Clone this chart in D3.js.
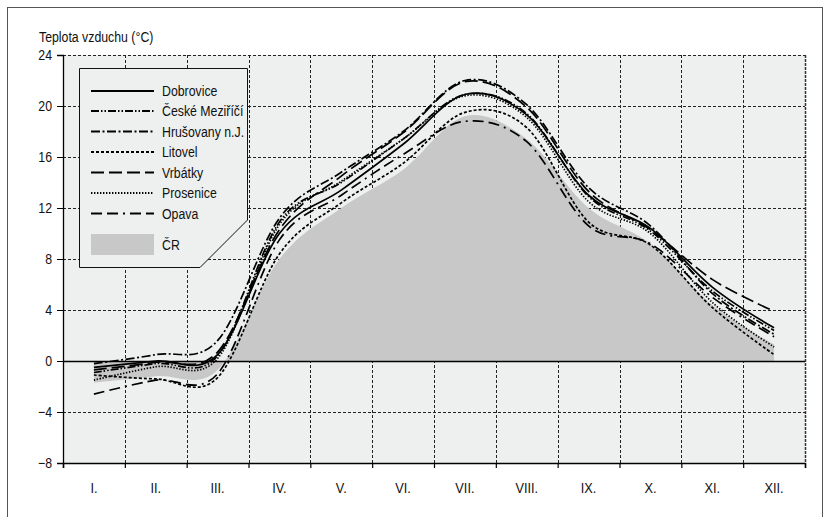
<!DOCTYPE html>
<html>
<head>
<meta charset="utf-8">
<script src="https://cdn.jsdelivr.net/npm/d3@7"></script>
<style>
  html, body { margin: 0; padding: 0; background: #fff; }
  svg text { font-family: "Liberation Sans", Arial, sans-serif; fill: #111; }
</style>
</head>
<body>
<svg id="chart" width="829" height="517"></svg>
<script>
// ---- data ----
const months = ["I.", "II.", "III.", "IV.", "V.", "VI.", "VII.", "VIII.", "IX.", "X.", "XI.", "XII."];
const yTicks = [-8, -4, 0, 4, 8, 12, 16, 20, 24];
const yTickLabels = ["\u22128", "\u22124", "0", "4", "8", "12", "16", "20", "24"];

const dobrovice     = [-0.5,  0.0,  0.5, 10.0, 13.4, 17.0, 20.9, 19.3, 13.0, 10.4, 5.8, 2.6];
const ceskeMezirici = [-0.9, -0.2,  0.4, 10.9, 14.0, 17.4, 20.9, 19.4, 12.9, 10.2, 5.5, 2.4];
const hrusovany     = [-0.2,  0.5,  1.6, 11.2, 14.8, 18.0, 22.0, 20.1, 13.6, 10.6, 5.3, 2.1];
const litovel       = [-1.1, -1.4, -1.3,  8.4, 12.4, 15.5, 19.5, 18.3, 10.9,  9.1, 4.2, 0.5];
const vrbatky       = [-0.7, -0.1,  0.7, 10.3, 14.5, 17.9, 21.9, 19.9, 13.3, 10.3, 6.4, 3.9];
const prosenice     = [-1.5, -0.45, 0.2, 10.7, 14.1, 17.4, 20.8, 19.1, 12.5, 10.0, 4.6, 1.1];
const opava         = [-2.6, -1.5, -1.0,  9.5, 13.0, 16.2, 18.8, 17.2, 10.6,  9.2, 5.0, 1.9];
const cr            = [-1.7, -1.2, -0.7,  8.0, 12.0, 15.0, 19.2, 17.4, 12.0,  9.2, 4.4, 1.3];

const seriesNames = ["Dobrovice", "České Meziříčí", "Hrušovany n.J.", "Litovel", "Vrbátky", "Prosenice", "Opava"];
const seriesValues = [dobrovice, ceskeMezirici, hrusovany, litovel, vrbatky, prosenice, opava];
const seriesDash = ["none", "8,2,1.5,2,1.5,2", "9,2.5,2,2.5", "3,2", "13,5", "1.4,1.6", "11,5,11,5,2,5"];
const crName = "ČR";
const titleText = "Teplota vzduchu (°C)";

// ---- layout ----
const svg = d3.select("#chart");
const x = d3.scaleLinear().domain([0, 12]).range([63, 805]);
const y = d3.scaleLinear().domain([-8, 24]).range([463, 55]);
const SX = 0.85;

function label(g, tx, ty, str, size, anchor) {
  return g.append("text")
    .attr("transform", `translate(${tx},${ty}) scale(${SX},1)`)
    .attr("font-size", size)
    .attr("text-anchor", anchor || "start")
    .text(str);
}

// outer frame
svg.append("rect").attr("x", 7.5).attr("y", 7.5).attr("width", 815).attr("height", 520)
  .attr("fill", "#fff").attr("stroke", "#555").attr("stroke-width", 1);

// plot background
svg.append("rect").attr("x", x(0)).attr("y", y(24)).attr("width", x(12) - x(0)).attr("height", y(-8) - y(24))
  .attr("fill", "#eef0ef");

// grid horizontal dashed
const grid = svg.append("g");
yTicks.filter(v => v !== 0 && v !== -8).forEach(v => {
  grid.append("line").attr("x1", x(0)).attr("x2", x(12)).attr("y1", y(v) + 0.5).attr("y2", y(v) + 0.5)
    .attr("stroke", "#222").attr("stroke-width", 1).attr("stroke-dasharray", "3,2");
});
// grid vertical dashed at month boundaries
d3.range(1, 12).forEach(k => {
  grid.append("line").attr("x1", Math.round(x(k)) + 0.5).attr("x2", Math.round(x(k)) + 0.5)
    .attr("y1", y(24)).attr("y2", y(-8))
    .attr("stroke", "#222").attr("stroke-width", 1).attr("stroke-dasharray", "3,2");
});
// right border
grid.append("line").attr("x1", x(12) + 0.5).attr("x2", x(12) + 0.5).attr("y1", y(24)).attr("y2", y(-8))
  .attr("stroke", "#333").attr("stroke-width", 1.5).attr("stroke-dasharray", "3,1");

// CR area
const xm = (d, i) => x(i + 0.5);
const curve = d3.curveCatmullRom.alpha(0);
const area = d3.area().x(xm).y0(y(0)).y1(d => y(d)).curve(curve);
svg.append("path").datum(cr).attr("d", area).attr("fill", "#c8c8c8");

// zero line
svg.append("line").attr("x1", x(0)).attr("x2", x(12)).attr("y1", y(0) + 0.5).attr("y2", y(0) + 0.5)
  .attr("stroke", "#000").attr("stroke-width", 1.3);

// series lines
const line = d3.line().x(xm).y(d => y(d)).curve(curve);
seriesValues.forEach((vals, i) => {
  svg.append("path").datum(vals).attr("d", line).attr("fill", "none")
    .attr("stroke", "#000").attr("stroke-width", 1.7)
    .attr("stroke-dasharray", seriesDash[i]);
});

// axes
const yAxis = d3.axisLeft(y).tickValues(yTicks).tickSize(6).tickFormat("");
const gy = svg.append("g").attr("transform", `translate(${x(0)},0)`).call(yAxis);
gy.select(".domain").attr("stroke", "#000").attr("stroke-width", 1.3);
gy.selectAll(".tick line").attr("stroke", "#000");
const gyl = svg.append("g");
yTicks.forEach((v, i) => label(gyl, 52, y(v) + 5, yTickLabels[i], 14.5, "end"));

const xAxis = d3.axisBottom(x).tickValues(d3.range(0, 13)).tickSize(5).tickFormat("");
const gx = svg.append("g").attr("transform", `translate(0,${y(-8)})`).call(xAxis);
gx.select(".domain").attr("stroke", "#000").attr("stroke-width", 1.5);
gx.selectAll(".tick line").attr("stroke", "#000").attr("stroke-width", 1.2);

// month labels
const gm = svg.append("g");
months.forEach((m, i) => label(gm, x(i + 0.5), 493, m, 15, "middle"));

// title
label(svg, 39, 42, titleText, 14.5);

// legend
const lg = svg.append("g");
lg.append("path")
  .attr("d", "M79.5,68.5 L247.5,68.5 L247.5,220 L200,267.5 L79.5,267.5 Z")
  .attr("fill", "#eef0ef").attr("stroke", "#111").attr("stroke-width", 1);
const rowY = [91, 111, 131.5, 152, 172.5, 193, 213.5];
seriesNames.forEach((name, i) => {
  lg.append("line").attr("x1", 91).attr("x2", 154).attr("y1", rowY[i]).attr("y2", rowY[i])
    .attr("stroke", "#000").attr("stroke-width", 1.8).attr("stroke-dasharray", seriesDash[i]);
  label(lg, 162, rowY[i] + 5, name, 14.5);
});
lg.append("rect").attr("x", 91).attr("y", 234).attr("width", 63).attr("height", 21).attr("fill", "#c8c8c8");
label(lg, 162, 249.5, crName, 14.5);
</script>
</body>
</html>
